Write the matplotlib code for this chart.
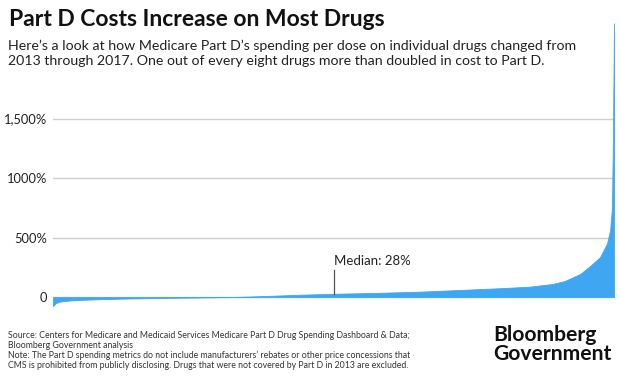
import matplotlib
matplotlib.use("Agg")
import matplotlib.pyplot as plt
from matplotlib.ticker import FixedLocator

# Drugs sorted by change in spending per dose (percentile of drugs -> % change)
percentile = [0.0, 0.5, 1.2, 3.0, 6.6, 12, 19, 26, 31.5, 37, 44, 50, 58, 65,
              72.5, 79.7, 85, 89, 91.2, 94, 95.7, 97.5, 98.75, 99.3, 99.64,
              99.8, 100.0]
pct_change = [-75, -50, -38, -28, -20, -13, -7, -3, 0, 8, 20, 28, 36, 45,
              60, 75, 88, 110, 135, 195, 260, 335, 450, 560, 750,
              1300, 2300]

median_pos = 50
median_val = 28

ytick_vals = [0, 500, 1000, 1500]
ytick_labels = ["0", "500%", "1000%", "1,500%"]

title = "Part D Costs Increase on Most Drugs"
subtitle = ("Here\u2019s a look at how Medicare Part D\u2019s spending per dose on individual drugs changed from\n"
            "2013 through 2017. One out of every eight drugs more than doubled in cost to Part D.")
footer = ("Source: Centers for Medicare and Medicaid Services Medicare Part D Drug Spending Dashboard & Data;\n"
          "Bloomberg Government analysis\n"
          "Note: The Part D spending metrics do not include manufacturers\u2019 rebates or other price concessions that\n"
          "CMS is prohibited from publicly disclosing. Drugs that were not covered by Part D in 2013 are excluded.")

plt.rcParams['font.family'] = ['Lato', 'DejaVu Sans']

W, H = 620, 379
fig = plt.figure(figsize=(W / 100, H / 100), dpi=100)
ax = fig.add_axes([53 / W, (H - 312) / H, 561 / W, 297 / H])

blue = "#3fa6f2"
ax.fill_between(percentile, 0, pct_change, color=blue, linewidth=0.6, edgecolor=blue)
ax.set_xlim(0, 100)
ax.set_ylim(-125, 2370)

ax.yaxis.set_major_locator(FixedLocator(ytick_vals))
ax.set_yticklabels(ytick_labels)
ax.set_xticks([])
ax.grid(axis="y", color="#cfcfcf", linewidth=1.0)
ax.set_axisbelow(True)
for s in ax.spines.values():
    s.set_visible(False)
ax.tick_params(axis="y", length=0, pad=4, labelsize=9.3, labelcolor="#222222")

# Median annotation
ax.plot([median_pos, median_pos], [median_val, 230], color="#555555", linewidth=0.9)
ax.text(median_pos, 250, f"Median: {median_val}%", fontsize=9.5, color="#222222",
        ha="left", va="bottom")

fig.text(9 / W, 1 - 26 / H, title, fontsize=16.5, fontweight="bold", color="#111111",
         ha="left", va="baseline")
fig.text(8 / W, 1 - 40 / H, subtitle, fontsize=10.2, color="#222222", ha="left",
         va="top", linespacing=1.25)
fig.text(8 / W, 1 - 331 / H, footer, fontsize=6.35, color="#333333", ha="left",
         va="top", linespacing=1.12)
fig.text(493 / W, 1 - 325 / H, "Bloomberg\nGovernment", fontsize=15.2, fontweight="bold",
         color="#111111", ha="left", va="top", linespacing=0.95)

fig.savefig("out.png", dpi=100)
